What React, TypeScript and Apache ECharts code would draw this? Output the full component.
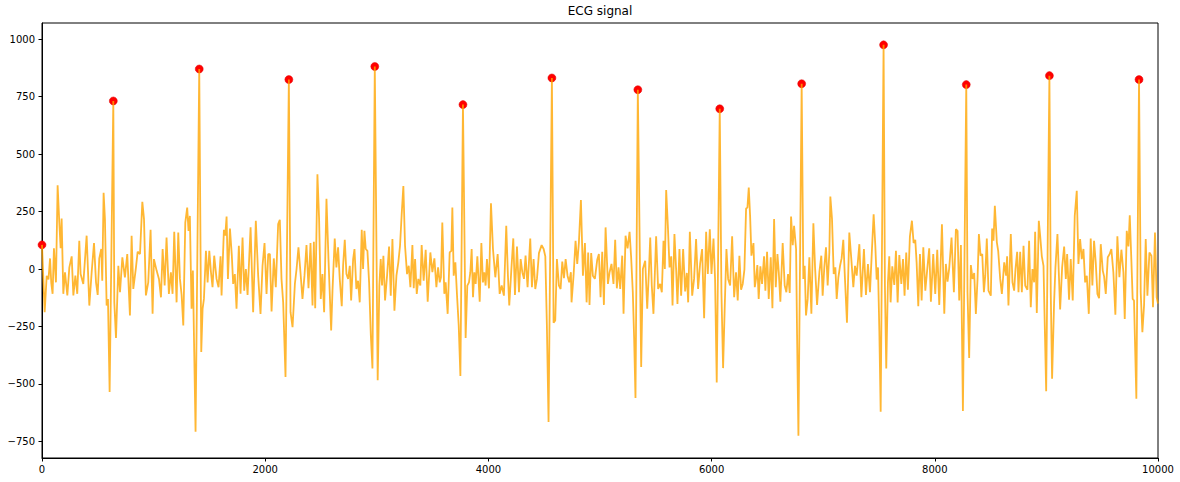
import React, { useEffect, useRef } from "react";
import * as echarts from "echarts";

// [sample index, amplitude]
const ecgSamples: [number, number][] = [
  [0,105],[24,-188],[42,-30],[58,-45],[72,46],[83,-60],[95,-108],[107,90],[125,-58],[140,364],[155,202],[167,90],[176,220],[191,-108],[206,-14],[227,-115],[245,7],[266,55],[281,-115],[299,-29],[316,-108],[334,123],[346,-22],[370,-65],[400,145],[424,-159],[445,-14],[466,113],[484,-58],[499,-113],[513,46],[531,87],[540,-51],[552,332],[564,217],[579,-159],[591,-130],[606,-535],[639,731],[648,-145],[663,-300],[684,14],[699,-101],[720,51],[743,-36],[764,65],[788,-202],[803,145],[818,-87],[842,7],[857,75],[878,65],[899,292],[914,217],[931,-115],[952,-58],[973,171],[991,-195],[1003,43],[1027,-7],[1048,-43],[1066,-123],[1081,87],[1099,-72],[1116,137],[1137,-108],[1155,-14],[1170,-108],[1185,162],[1206,-145],[1221,159],[1236,-43],[1251,-113],[1266,-246],[1284,202],[1301,267],[1313,166],[1325,231],[1340,-173],[1352,-7],[1364,-361],[1376,-708],[1409,870],[1427,-361],[1439,-173],[1451,-130],[1469,79],[1484,-58],[1499,79],[1514,-14],[1528,-79],[1543,58],[1564,-43],[1582,-79],[1600,55],
  [1609,-115],[1630,171],[1642,145],[1654,228],[1666,-43],[1684,176],[1701,58],[1713,-65],[1728,-22],[1743,-173],[1764,101],[1779,-108],[1797,137],[1812,-94],[1827,0],[1842,-113],[1869,181],[1892,-188],[1916,210],[1937,-29],[1958,-195],[1976,14],[1994,113],[2012,-108],[2027,65],[2042,65],[2057,-185],[2077,46],[2095,-79],[2116,195],[2131,214],[2146,-43],[2161,-145],[2182,-470],[2212,824],[2227,-188],[2245,-253],[2266,-65],[2281,0],[2298,94],[2316,-14],[2334,-130],[2352,-29],[2370,104],[2388,-84],[2406,113],[2424,-159],[2436,118],[2448,-171],[2468,412],[2483,217],[2498,-130],[2513,-22],[2528,-188],[2549,306],[2567,43],[2591,-267],[2603,-94],[2623,133],[2638,7],[2653,94],[2668,-43],[2686,-162],[2698,14],[2713,127],[2728,-22],[2743,-43],[2758,14],[2770,-137],[2788,43],[2800,87],[2817,-87],[2832,-51],[2847,-145],[2865,171],[2877,0],[2889,166],[2901,87],[2916,79],[2931,-58],[2946,-282],[2961,-433],[2982,881],[3008,-484],[3023,-72],[3035,43],[3047,-72],[3059,58],[3074,-137],[3092,-29],[3110,98],[3125,-116],[3140,130],[3158,-181],[3176,-29],[3193,29],[3208,101],[3223,238],[3238,361],[3253,101],[3271,-22],[3286,14],[3301,-79],[3319,104],[3331,-84],[3343,43],[3358,-108],[3372,-43],
  [3390,-72],[3402,104],[3420,-51],[3438,84],[3456,-142],[3480,72],[3498,-14],[3516,46],[3534,-79],[3549,7],[3564,-58],[3575,-36],[3587,202],[3605,-108],[3617,-58],[3635,-195],[3653,72],[3668,79],[3677,267],[3689,-29],[3704,29],[3719,-116],[3734,-246],[3749,-465],[3772,715],[3796,-300],[3811,-72],[3826,-58],[3838,-14],[3850,87],[3862,-123],[3874,-14],[3886,-65],[3901,55],[3922,-142],[3937,113],[3951,-58],[3963,-14],[3975,-72],[3987,43],[4005,-84],[4023,286],[4041,87],[4062,-36],[4083,65],[4101,-108],[4119,-72],[4139,-116],[4160,188],[4175,-29],[4187,-159],[4205,-7],[4223,133],[4238,-113],[4256,98],[4274,-101],[4289,43],[4304,-14],[4319,-43],[4333,58],[4351,-79],[4375,133],[4390,-79],[4405,43],[4420,-87],[4435,-43],[4453,69],[4477,104],[4495,87],[4510,55],[4524,-246],[4539,-665],[4569,831],[4584,-234],[4599,-224],[4614,43],[4632,-72],[4647,-87],[4662,32],[4677,-40],[4692,43],[4709,-29],[4724,-58],[4739,-14],[4745,-145],[4763,-29],[4781,123],[4796,22],[4811,116],[4829,300],[4847,-29],[4865,113],[4880,-145],[4894,72],[4906,-156],[4921,69],[4936,-29],[4954,-43],[4975,40],[4990,65],[5005,-123],[5020,75],[5035,-156],[5050,181],
  [5071,-65],[5086,-14],[5103,22],[5121,-65],[5136,127],[5151,-84],[5166,7],[5181,-87],[5199,58],[5211,-195],[5229,145],[5247,90],[5265,162],[5279,51],[5294,-101],[5306,-303],[5318,-561],[5339,780],[5369,-426],[5384,0],[5405,36],[5423,-173],[5438,-14],[5450,137],[5464,-72],[5479,-195],[5503,142],[5521,-87],[5539,-65],[5554,-101],[5569,123],[5581,0],[5593,344],[5608,188],[5623,7],[5638,55],[5650,-159],[5667,152],[5682,0],[5694,-152],[5712,87],[5727,-116],[5745,87],[5763,-98],[5778,-17],[5790,-145],[5805,162],[5826,-116],[5843,-43],[5861,130],[5879,-87],[5897,22],[5915,87],[5933,-214],[5951,162],[5966,-22],[5984,173],[5999,-22],[6017,133],[6031,-43],[6046,-494],[6073,697],[6088,-101],[6103,-431],[6118,-159],[6133,87],[6148,-43],[6166,-72],[6184,142],[6202,-123],[6219,-14],[6234,-137],[6249,58],[6264,-90],[6279,-65],[6294,-3],[6309,263],[6321,267],[6333,354],[6345,231],[6357,58],[6375,113],[6387,-79],[6398,-43],[6410,17],[6422,-130],[6437,12],[6452,-65],[6470,55],[6482,-94],[6497,75],[6512,-130],[6530,51],[6545,-171],[6560,217],[6575,-79],[6590,65],[6602,-14],[6616,-142],[6637,113],[6655,-72],[6670,-101],[6685,-22],[6700,-104],[6712,228],[6727,104],[6739,188],[6757,87],[6766,-290],[6778,-725],
  [6807,806],[6822,-43],[6834,14],[6846,-202],[6861,-130],[6876,51],[6894,-195],[6912,199],[6927,7],[6945,-156],[6966,-12],[6983,58],[6995,-116],[7010,7],[7025,94],[7040,-72],[7055,72],[7064,315],[7079,217],[7094,-22],[7109,7],[7121,-130],[7136,-36],[7151,14],[7165,46],[7180,127],[7195,-43],[7213,-234],[7234,159],[7252,43],[7270,-79],[7285,14],[7300,-29],[7324,108],[7342,-123],[7365,87],[7383,-113],[7401,22],[7419,-101],[7434,55],[7452,238],[7467,101],[7479,-46],[7491,7],[7503,-267],[7515,-621],[7541,975],[7553,-72],[7565,-433],[7580,-58],[7592,55],[7604,-145],[7619,12],[7637,-69],[7652,79],[7667,-145],[7682,61],[7700,-65],[7715,43],[7729,-116],[7744,72],[7759,-90],[7777,142],[7795,210],[7810,113],[7825,127],[7837,29],[7852,-162],[7867,65],[7882,-137],[7897,94],[7915,-94],[7932,-3],[7950,90],[7965,-142],[7986,65],[8004,-108],[8022,84],[8040,-156],[8064,195],[8085,-195],[8099,22],[8114,-55],[8129,3],[8150,137],[8171,-101],[8189,173],[8204,166],[8219,-137],[8234,104],[8252,-618],[8282,802],[8293,-101],[8308,-387],[8323,17],[8338,-43],[8353,-17],[8368,-195],[8383,-43],[8395,152],[8410,58],[8425,65],[8440,-101],[8452,-29],[8466,133],[8481,-94],
  [8502,-116],[8514,176],[8526,123],[8538,275],[8556,116],[8568,79],[8586,-43],[8601,-108],[8622,29],[8639,-29],[8648,55],[8660,-159],[8681,152],[8696,-58],[8711,-94],[8723,0],[8738,75],[8750,-101],[8765,75],[8780,-101],[8795,101],[8810,-72],[8830,-90],[8845,123],[8860,-166],[8875,0],[8890,-58],[8899,162],[8914,-191],[8932,210],[8944,145],[8959,55],[8974,14],[8998,-532],[9027,841],[9039,-101],[9051,-477],[9069,-145],[9081,7],[9099,152],[9111,-14],[9123,-176],[9141,7],[9159,98],[9174,-43],[9186,65],[9203,-133],[9218,43],[9236,-137],[9254,231],[9272,340],[9287,22],[9302,130],[9317,43],[9332,87],[9347,-58],[9362,-29],[9380,-195],[9397,133],[9412,-72],[9427,123],[9442,29],[9457,-108],[9472,-127],[9487,108],[9505,-7],[9517,-32],[9532,-108],[9550,51],[9567,65],[9582,87],[9600,-14],[9618,-199],[9636,142],[9654,-36],[9672,84],[9690,-14],[9702,-217],[9720,166],[9735,98],[9747,234],[9761,43],[9773,-130],[9785,-137],[9806,-564],[9830,824],[9845,-101],[9860,-275],[9875,-159],[9890,130],[9905,-116],[9923,72],[9941,58],[9955,-166],[9973,159],[9988,-123],[10000,-150],
];

// detected R peaks
const peakX = [0, 639, 1409, 2212, 2982, 3772, 4569, 5339, 6073, 6807, 7541, 8282, 9027, 9830];
const peakY = [105, 731, 870, 824, 881, 715, 831, 780, 697, 806, 975, 802, 841, 824];

const yTicks = [-750, -500, -250, 0, 250, 500, 750, 1000];
const xTicks = [0, 2000, 4000, 6000, 8000, 10000];

const FONT = "DejaVu Sans";
const minus = (v: number) => String(v).replace("-", "\u2212");

export default function App() {
  const chartRef = useRef<HTMLDivElement>(null);

  useEffect(() => {
    if (!chartRef.current) return;
    const chart = echarts.init(chartRef.current, null, { renderer: "svg" });
    chart.setOption({
      animation: false,
      backgroundColor: "#fff",
      title: {
        text: "ECG signal",
        left: 600,
        top: 5,
        padding: 0,
        textAlign: "center",
        textStyle: { fontFamily: FONT, fontSize: 12, fontWeight: "normal", color: "#000" },
      },
      grid: {
        left: 42,
        right: 22,
        top: 23,
        bottom: 24,
        show: true,
        borderColor: "#000",
        borderWidth: 1,
      },
      xAxis: {
        type: "value",
        min: xTicks[0],
        max: xTicks[xTicks.length - 1],
        interval: 2000,
        splitLine: { show: false },
        axisLine: { onZero: false, lineStyle: { color: "#000", width: 1 } },
        axisTick: { length: 3.5, lineStyle: { color: "#000" } },
        axisLabel: { margin: 6, color: "#000", fontFamily: FONT, fontSize: 10, formatter: minus },
      },
      yAxis: {
        type: "value",
        min: -822,
        max: 1070,
        splitLine: { show: false },
        axisLine: { show: true, onZero: false, lineStyle: { color: "#000", width: 1 } },
        axisTick: { show: true, length: 3.5, customValues: yTicks, lineStyle: { color: "#000" } },
        axisLabel: { margin: 7, color: "#000", fontFamily: FONT, fontSize: 10, customValues: yTicks, formatter: minus },
      },
      series: [
        {
          type: "scatter",
          data: peakX.map((x, i) => [x, peakY[i]]),
          symbolSize: 8,
          itemStyle: { color: "#ff0000", opacity: 1, borderColor: "#e00000", borderWidth: 0.5 },
          z: 2,
        },
        {
          type: "line",
          data: ecgSamples,
          showSymbol: false,
          lineStyle: { color: "#ffa500", opacity: 0.8, width: 1.8 },
          z: 3,
        },
      ],
    });

    return () => {
      chart.dispose();
    };
  }, []);

  return (
    <div
      ref={chartRef}
      style={{ position: "absolute", left: 0, top: 0, width: 1180, height: 482 }}
    />
  );
}
